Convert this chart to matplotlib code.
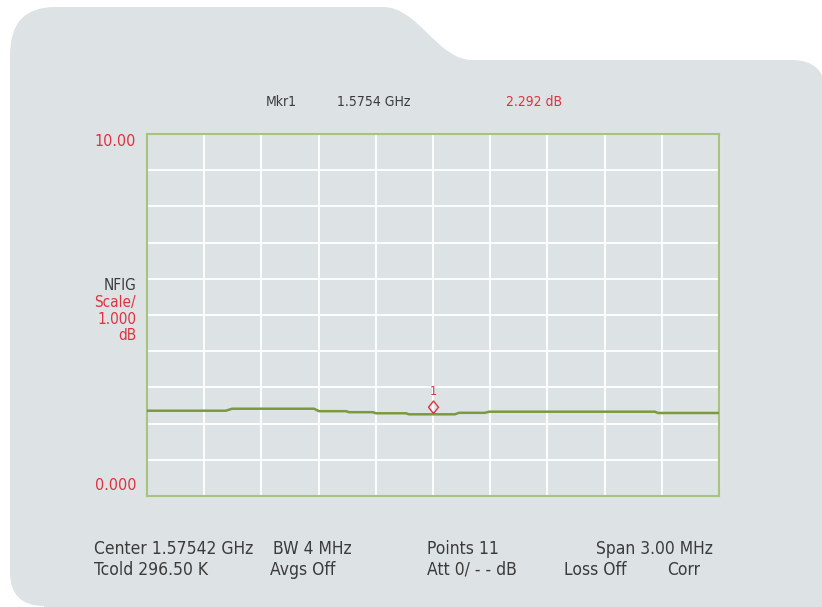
import matplotlib
matplotlib.use('Agg')
import matplotlib.pyplot as plt
from matplotlib.path import Path
from matplotlib.patches import PathPatch
import numpy as np

plt.rcParams['font.family'] = ['DejaVu Sans']
plt.rcParams['font.stretch'] = 'condensed'

center_ghz = 1.57542
span_mhz = 3.00
n_div = 10
y_min, y_max = 0.0, 10.0

# trace breakpoints: offset from center (MHz) and noise figure (dB)
trace_off = [-1.500, -1.086, -1.054, -0.624, -0.598, -0.456, -0.441, -0.315, -0.299,
             -0.142, -0.126, 0.115, 0.136, 0.273, 0.294, 1.164, 1.180, 1.500]
trace_db = [2.356, 2.356, 2.411, 2.411, 2.343, 2.343, 2.315, 2.315, 2.285,
            2.285, 2.257, 2.257, 2.298, 2.298, 2.329, 2.329, 2.293, 2.293]

mkr_off = 0.0
mkr_db = 2.292
mkr_label = ['Mkr1', '1.5754 GHz', '2.292 dB']

bottom_row1 = ['Center 1.57542 GHz', 'BW 4 MHz', 'Points 11', 'Span 3.00 MHz']
bottom_row2 = ['Tcold 296.50 K', 'Avgs Off', 'Att 0/ - - dB', 'Loss Off', 'Corr']

RED = '#e0313f'
DARK = '#3b3b3b'
PANEL = '#dde3e5'
FRAME = '#a8c47c'
TRACE = '#7c9a3c'

W, H = 822, 607
fig = plt.figure(figsize=(W / 100, H / 100), dpi=100)
fig.patch.set_facecolor('white')

# folder shaped panel, drawn in pixel coordinates
bg = fig.add_axes([0, 0, 1, 1])
bg.set_xlim(0, W)
bg.set_ylim(H, 0)
bg.axis('off')
verts = [(10, 55), (10, 7), (55, 7),
         (383, 7),
         (418, 7), (438, 60), (472, 60),
         (792, 60), (826, 60), (826, 95),
         (826, 620),
         (10, 620),
         (10, 55)]
codes = [Path.MOVETO, Path.CURVE3, Path.CURVE3,
         Path.LINETO,
         Path.CURVE4, Path.CURVE4, Path.CURVE4,
         Path.LINETO, Path.CURVE3, Path.CURVE3,
         Path.LINETO,
         Path.LINETO,
         Path.CLOSEPOLY]
bg.add_patch(PathPatch(Path(verts, codes), facecolor=PANEL, edgecolor='none'))
# rounded bottom-left corner
bg.add_patch(PathPatch(Path([(0, 560), (10, 560), (10, 572), (10, 606), (44, 606),
                             (44, 620), (0, 620), (0, 560)],
                            [Path.MOVETO, Path.LINETO, Path.LINETO, Path.CURVE3, Path.CURVE3,
                             Path.LINETO, Path.LINETO, Path.CLOSEPOLY]),
                       facecolor='white', edgecolor='none'))

ax = fig.add_axes([147 / W, 1 - 496 / H, 572 / W, 362 / H])
ax.set_facecolor('none')
ax.set_xlim(-span_mhz / 2, span_mhz / 2)
ax.set_ylim(y_min, y_max)
ax.set_xticks(np.linspace(-span_mhz / 2, span_mhz / 2, n_div + 1))
ax.set_yticks(np.linspace(y_min, y_max, n_div + 1))
ax.tick_params(length=0, labelbottom=False, labelleft=False)
ax.grid(True, color='white', linewidth=1.3)
for s in ax.spines.values():
    s.set_color(FRAME)
    s.set_linewidth(1.5)
    s.set_zorder(3)

ax.plot(trace_off, trace_db, color=TRACE, linewidth=1.8, zorder=4)

# marker diamond sitting on the trace
diamond = [(0, 0), (-0.8, 1), (0, 2), (0.8, 1), (0, 0)]
ax.plot([mkr_off], [mkr_db], marker=diamond, markersize=18, markerfacecolor='none',
        markeredgecolor=RED, markeredgewidth=1.0, linestyle='none', zorder=5)
ax.annotate('1', (mkr_off, mkr_db), xytext=(0, 10.5), textcoords='offset points',
            ha='center', va='bottom', color=RED, fontsize=9)

# labels in pixel coordinates
def txt(x, y, s, color=DARK, ha='left', size=10):
    bg.text(x, y, s, color=color, ha=ha, va='center', fontsize=size)

txt(266, 102, mkr_label[0], size=10)
txt(337, 102, mkr_label[1], size=10)
txt(506, 102, mkr_label[2], color=RED, size=10)

txt(136, 142, '%.2f' % y_max, color=RED, ha='right', size=11.5)
txt(136, 485, '%.3f' % y_min, color=RED, ha='right', size=11.5)
txt(136, 285, 'NFIG', ha='right', size=11)
txt(136, 302, 'Scale/', color=RED, ha='right', size=11)
txt(136, 319, '1.000', color=RED, ha='right', size=11)
txt(136, 336, 'dB', color=RED, ha='right', size=11)

row1_x = [94, 273, 427, 713]
row2_x = [94, 270, 427, 564, 667]
for i, s in enumerate(bottom_row1):
    txt(row1_x[i], 549, s, ha='right' if i == 3 else 'left', size=12.5)
for i, s in enumerate(bottom_row2):
    txt(row2_x[i], 570, s, size=12.5)

fig.savefig('out.png', dpi=100, facecolor='white')
